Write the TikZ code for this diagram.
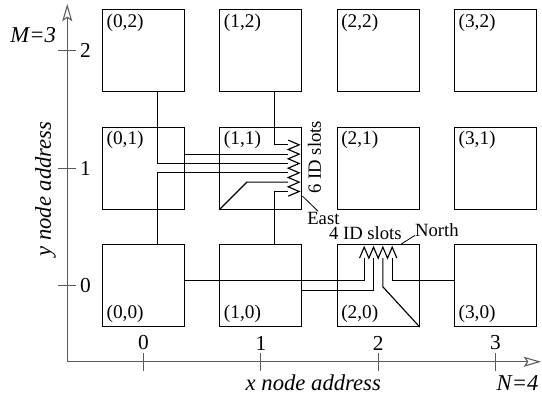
\documentclass[tikz,border=0pt]{standalone}
\usepackage{fontspec}
\setmainfont{Liberation Serif}
\usepackage{xcolor}
\definecolor{axisgray}{RGB}{90,90,90}
\usetikzlibrary{arrows.meta, calc}

\tikzset{
  router/.style={draw, line width=0.9pt, minimum size=61.5pt, inner sep=0pt},
  wire/.style={line width=0.85pt},
  leader/.style={line width=0.6pt},
  axis/.style={axisgray, line width=0.8pt, -{Stealth[open, length=13pt, width=7.5pt, inset=2.5pt]}},
  tick/.style={axisgray, line width=0.8pt},
  addr/.style={font=\fontsize{14.5}{16}\selectfont, inner sep=3.3pt},
  slotlbl/.style={font=\fontsize{14}{16}\selectfont, inner sep=0pt},
  ticklbl/.style={font=\fontsize{16}{18}\selectfont},
  axlbl/.style={font=\fontsize{17}{19}\selectfont\itshape}
}

\begin{document}
\begin{tikzpicture}[x=88pt, y=88pt]
  \useasboundingbox (-1.223,-0.984) rectangle (3.396,2.433);
  % axes
  \coordinate (orig) at (-0.65,-0.65);
  \coordinate (xend) at (3.388,-0.65);
  \coordinate (yend) at (-0.65,2.40);
  \draw[axis] (orig) -- (xend);
  \draw[axis] (orig) -- (yend);
  \foreach \i in {0,...,3} {
    \draw[tick] (\i,-0.65) ++(0,-6.75pt) -- ++(0,13.5pt);
    \node[ticklbl] (tx\i) at (\i,-0.49) {\i};
  }
  \foreach \j in {0,1,2} {
    \draw[tick] (-0.65,\j) ++(-6.75pt,0) -- ++(13.5pt,0);
    \node[ticklbl] (ty\j) at (-0.494,\j) {\j};
  }
  \node[axlbl, anchor=base] (xTitle) at (1.447,-0.897) {x node address};
  \node[axlbl, anchor=base] (nMax) at (3.188,-0.897) {N=4};
  \node[axlbl, rotate=90] (yTitle) at (-0.835,0.822) {y node address};
  \node[axlbl] (mMax) at (-0.94,2.135) {M=3};

  % routers
  \foreach \i in {0,...,3} {
    \foreach \j in {0,1,2}
      \node[router] (n\i\j) at (\i,\j) {};
    \foreach \j in {1,2}
      \node[addr, anchor=north west] (a\i\j) at (n\i\j.north west) {(\i,\j)};
    \node[addr, anchor=south west] (a\i0) at (n\i0.south west) {(\i,0)};
  }

  % east ID slots of (1,1)
  \foreach \s [count=\k] in {17.5pt,10.5pt,3.5pt,-3.5pt,-10.5pt,-17.5pt}
    \coordinate (e\k) at ($(n11.center)+(20.5pt,\s)$);
  \draw[wire] ($(n11.center)+(20.5pt,21pt)$)
    \foreach \k in {1,...,6} { -- ++(8.25pt,-3.5pt) -- ++(-8.25pt,-3.5pt) };
  \draw[wire] ($(n12.south)+(10.5pt,0)$) |- (e1);
  \draw[wire] ($(n01.east)+(0,10.5pt)$) -- (e2);
  \draw[wire] ($(n02.south)+(10.5pt,0)$) |- (e3);
  \draw[wire] ($(n00.north)+(10.5pt,0)$) |- (e4);
  \draw[wire] (n11.south west) -- ($(n11.center)+(-10.5pt,-10.5pt)$) -- (e5);
  \draw[wire] ($(n10.north)+(10.5pt,0)$) |- (e6);
  \node[slotlbl, rotate=90] (lblSix) at ($(n11.center)+(40.3pt,8.25pt)$) {6 ID slots};
  \node[slotlbl, anchor=north west] (lblEast) at ($(n11.center)+(34.65pt,-32.8pt)$) {East};
  \draw[leader] ($(n11.east)+(0,-21pt)$) -- ($(lblEast.north west)+(8.25pt,0.5pt)$);

  % north ID slots of (2,0)
  \foreach \s [count=\k] in {-10.5pt,-3.5pt,3.5pt,10.5pt}
    \coordinate (s\k) at ($(n20.center)+(\s,20.5pt)$);
  \draw[wire] ($(n20.center)+(-14pt,20.5pt)$)
    \foreach \k in {1,...,4} { -- ++(3.5pt,8.25pt) -- ++(3.5pt,-8.25pt) };
  \draw[wire] ($(n00.east)+(0,3.5pt)$) -| (s1);
  \draw[wire] ($(n10.east)+(0,-3.5pt)$) -| (s2);
  \draw[wire] (n20.south east) -- ($(n20.center)+(3.5pt,-1pt)$) -- (s3);
  \draw[wire] ($(n30.west)+(0,3.5pt)$) -| (s4);
  \node[slotlbl, anchor=base] (lblFour) at ($(n20.center)+(-9.6pt,34.5pt)$) {4 ID slots};
  \node[slotlbl, anchor=south west] (lblNorth) at ($(n20.center)+(27.5pt,36.6pt)$) {North};
  \draw[leader] ($(n20.north)+(17.4pt,0)$) -- ($(lblNorth.south west)+(0,0.9pt)$);
\end{tikzpicture}
\end{document}
